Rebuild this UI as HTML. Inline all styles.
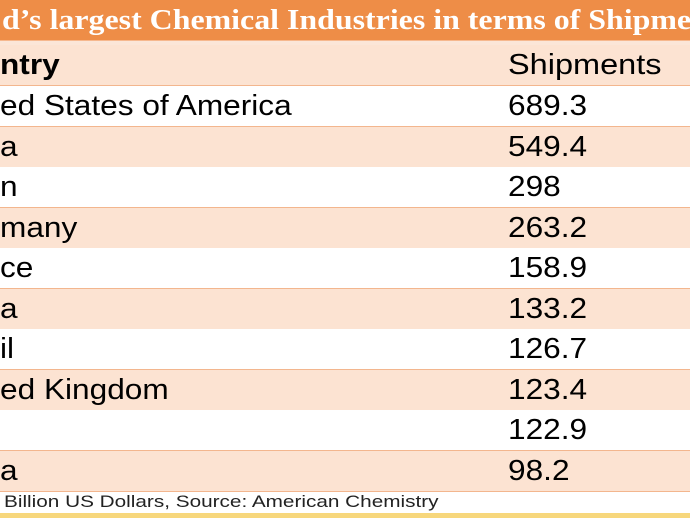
<!DOCTYPE html>
<html><head><meta charset="utf-8"><style>
body{margin:0;width:690px;height:518px;overflow:hidden;background:#fff;font-family:"Liberation Sans",sans-serif;position:relative}
.abs{position:absolute;left:0;width:690px}
.title{top:0;height:40px;background:#ee8d47;border-bottom:1px solid #f6b88e;overflow:hidden}
.title span{position:absolute;left:2px;top:0;color:#fff;font-family:"Liberation Serif",serif;font-weight:bold;font-size:29px;line-height:40px;white-space:nowrap;transform:scaleX(1.1);transform-origin:0 0}
.strip{top:41px;height:4px;background:#fbe6d8}
.row{height:40px;border-bottom:1.5px solid #f3b68e;font-size:29px;line-height:40px;white-space:nowrap}
.row span{position:absolute;transform:scaleX(1.09);transform-origin:0 0}
.row span.c{left:0}
.row span.v{left:508px}
.p{background:#fce3d2}.w{background:#fff}
.foot{top:489px;height:24px}
.foot span{position:absolute;left:4px;font-size:17px;line-height:26px;color:#222;white-space:nowrap;transform:scaleX(1.22);transform-origin:0 0}
.bar{top:513px;height:5px;background:#f7d77c}
</style></head><body>
<div class="abs title"><span>d’s largest Chemical Industries in terms of Shipments</span></div>
<div class="abs strip"></div>
<div class="abs row p" style="top:45px"><span class="c" style="font-weight:bold">ntry</span><span class="v" style="transform:scaleX(1.12)">Shipments</span></div>
<div class="abs row w" style="top:86px"><span class="c">ed States of America</span><span class="v">689.3</span></div>
<div class="abs row p" style="top:126.5px"><span class="c">a</span><span class="v">549.4</span></div>
<div class="abs row w" style="top:167px"><span class="c">n</span><span class="v">298</span></div>
<div class="abs row p" style="top:207.5px"><span class="c">many</span><span class="v">263.2</span></div>
<div class="abs row w" style="top:248px"><span class="c">ce</span><span class="v">158.9</span></div>
<div class="abs row p" style="top:288.5px"><span class="c">a</span><span class="v">133.2</span></div>
<div class="abs row w" style="top:329px"><span class="c">il</span><span class="v">126.7</span></div>
<div class="abs row p" style="top:369.5px"><span class="c">ed Kingdom</span><span class="v">123.4</span></div>
<div class="abs row w" style="top:410px"><span class="c"></span><span class="v">122.9</span></div>
<div class="abs row p" style="top:450.5px"><span class="c">a</span><span class="v">98.2</span></div>
<div class="abs foot"><span>Billion US Dollars, Source: American Chemistry</span></div>
<div class="abs bar"></div>
</body></html>
